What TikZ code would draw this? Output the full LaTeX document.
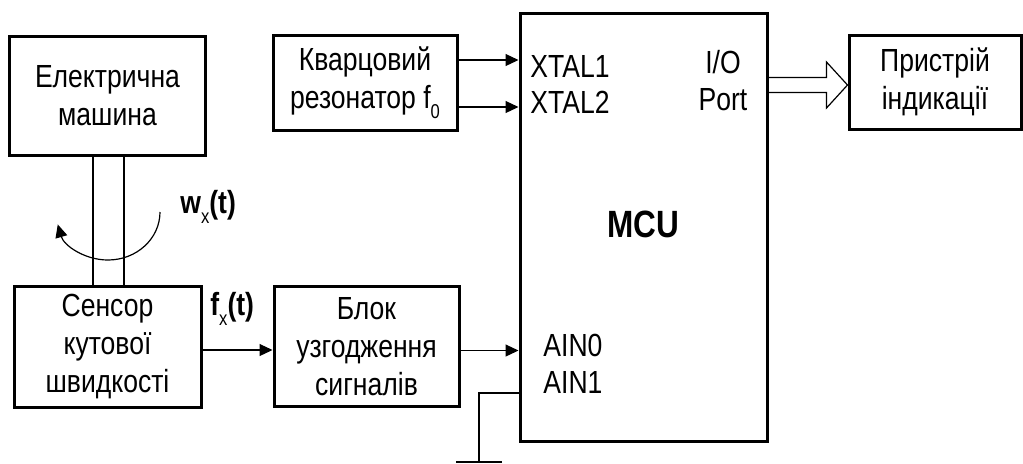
\documentclass[tikz,border=0pt]{standalone}
\usepackage{fontspec}
\setmainfont{Liberation Sans}[FakeStretch=0.83]
\usetikzlibrary{positioning,arrows.meta}

\newcommand{\lowidx}[1]{\raisebox{-5pt}{\fontsize{10}{10}\selectfont\mdseries #1}}

\begin{document}
\begin{tikzpicture}[x=0.5pt, y=-0.5pt, >={Triangle[length=6.5pt,width=6pt]},
    box/.style={draw, line width=1.5pt, rectangle, align=center, inner sep=0pt, font=\fontsize{16}{19}\selectfont},
    lbl/.style={inner sep=0pt, font=\fontsize{16}{19}\selectfont},
    wire/.style={line width=0.6pt}]
  \useasboundingbox (0,0) rectangle (1023,463);

  % blocks
  \node[box, minimum width=98pt, minimum height=59.5pt] (em) at (107.5,95.5) {Електрична\\машина};
  \node[box, minimum width=93.5pt, minimum height=60.5pt, below=64pt of em] (sen) {Сенсор\\кутової\\швидкості};
  \node[box, minimum width=92.5pt, minimum height=60pt, right=35pt of sen] (bl) {Блок\\узгодження\\сигналів};
  \node[box, minimum width=92pt, minimum height=47.5pt] (kv) at (365,82.5) {Кварцовий\\резонатор f\lowidx{0}};
  \node[box, minimum width=123.5pt, minimum height=214pt] (mcu) at (643.5,227) {};
  \node[box, minimum width=86pt, minimum height=47pt] (disp) at (935,82) {Пристрій\\індикації};

  % MCU pins
  \node[lbl, anchor=base west] (xt1) at (530,77) {XTAL1};
  \node[lbl, anchor=base west] (xt2) at (530,113) {XTAL2};
  \node[lbl, anchor=base] (iotxt) at (723,73) {I/O};
  \node[lbl, anchor=base] (port) at (723,110) {Port};
  \node[lbl, anchor=base, font=\fontsize{19}{19}\selectfont\bfseries] (mcutxt) at (643,237) {MCU};
  \node[lbl, anchor=base west] (ain0) at (543,356) {AIN0};
  \node[lbl, anchor=base west] (ain1) at (543,393) {AIN1};

  % signals
  \node[lbl, anchor=base west, font=\fontsize{16}{19}\selectfont\bfseries] (wx) at (180,213) {w\lowidx{x}(t)};
  \node[lbl, anchor=base west, font=\fontsize{16}{19}\selectfont\bfseries] (fx) at (210,315) {f\lowidx{x}(t)};

  % shaft and rotation
  \draw[wire] ([xshift=-7.25pt]em.south) -- ([xshift=-7.25pt]em.south |- sen.north);
  \draw[wire] ([xshift=8.25pt]em.south) -- ([xshift=8.25pt]em.south |- sen.north);
  \coordinate (wbeg) at (160,212);
  \draw[wire, ->] (wbeg) arc[start angle=0, end angle=-165, x radius=26pt, y radius=24pt];

  % connections
  \coordinate (k1) at ([yshift=11.25pt]kv.east);
  \coordinate (k2) at ([yshift=-12.25pt]kv.east);
  \draw[wire, ->] (k1) -- (k1 -| mcu.west);
  \draw[wire, ->] (k2) -- (k2 -| mcu.west);
  \coordinate (s1) at ([yshift=-1.75pt]sen.east);
  \draw[wire, ->] (s1) -- (s1 -| bl.west);
  \coordinate (b1) at ([yshift=-2pt]bl.east);
  \draw[wire, ->] (b1) -- (b1 -| mcu.west);

  % ground on AIN1
  \coordinate (gnd) at (479,462);
  \draw[wire] (ain1.base -| mcu.west) -| (gnd);
  \draw[wire] ([xshift=-11.5pt]gnd) -- ([xshift=11.5pt]gnd);

  % I/O bus arrow
  \coordinate (io) at ([yshift=-1.5pt]disp.west);
  \coordinate (iob) at (mcu.east |- io);
  \draw[wire] ([yshift=3.75pt]iob) -- ([shift={(-10.5pt,3.75pt)}]io) -- ([shift={(-10.5pt,11.5pt)}]io)
    -- (io) -- ([shift={(-10.5pt,-11.5pt)}]io) -- ([shift={(-10.5pt,-3.75pt)}]io) -- ([yshift=-3.75pt]iob);
\end{tikzpicture}
\end{document}
